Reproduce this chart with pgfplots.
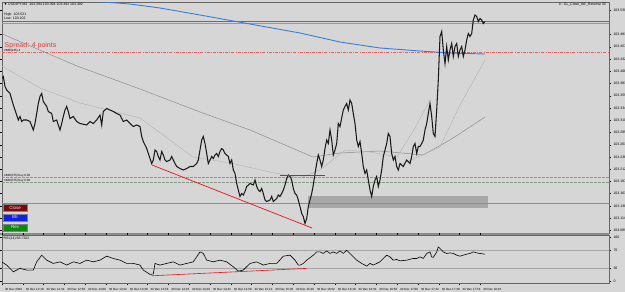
\documentclass[border=0pt]{standalone}
\usepackage{pgfplots}
\pgfplotsset{compat=1.18}
\usepackage{amssymb}
\usepackage{fontspec}
\setmainfont{Liberation Sans}
\definecolor{bg}{HTML}{D6D6D6}
\definecolor{maslow}{HTML}{8E8E8E}
\definecolor{mafast}{HTML}{B2B2B2}
\definecolor{mablue}{HTML}{3A7FD6}
\definecolor{lvred}{HTML}{E03A3A}
\definecolor{trred}{HTML}{E8141A}
\definecolor{lvgreen}{HTML}{849C84}
\definecolor{zone}{HTML}{A8A8A8}
\definecolor{btnred}{HTML}{7A0A0A}
\definecolor{btnblue}{HTML}{1020E8}
\definecolor{btngreen}{HTML}{0A8A0A}
\newcommand\fs[1]{\fontsize{#1}{#1}\selectfont}
\begin{document}
\begin{tikzpicture}[x=1pt,y=1pt]
\fill[bg] (0,0) rectangle (625,-292);
\path[use as bounding box] (0,0) rectangle (625,-292);
% ---------------- main price panel
\begin{axis}[at={(2pt,-2pt)}, anchor=north west, scale only axis,
  width=607pt, height=231pt, xmin=2, xmax=609, ymin=103.084, ymax=103.546,
  axis line style={black!60, line width=0.5pt},
  xtick=\empty,
  ytick={103.530,103.4810,103.4566,103.4321,103.4076,103.3831,103.3586,103.3342,103.3097,103.2852,103.2607,103.2362,103.2118,103.1873,103.1628,103.1383,103.1138,103.0894},
  yticklabel pos=right, tick align=outside, major tick length=2pt,
  tick style={black, line width=0.3pt},
  yticklabel style={font=\fs{3.5}, xshift=-1pt, /pgf/number format/.cd, fixed, fixed zerofill, precision=3, assume math mode=true},
  clip=true]
% zone and levels
\addplot[fill=zone, draw=none] coordinates {(308,103.134) (488,103.134) (488,103.158) (308,103.158)} -- cycle;
\addplot[black!45, line width=0.4pt] coordinates {(2,103.144) (609,103.144)};
\addplot[lvgreen, line width=0.45pt, dash pattern=on 2.5pt off 1.5pt] coordinates {(2,103.196) (609,103.196)};
\addplot[lvgreen, line width=0.45pt, dash pattern=on 2.5pt off 1.5pt] coordinates {(2,103.186) (609,103.186)};
\addplot[lvred!80, line width=0.5pt, dash pattern=on 3pt off 1.2pt on 0.8pt off 1.2pt] coordinates {(2,103.445) (609,103.445)};
\addplot[black!40, line width=0.4pt] coordinates {(2,103.504) (609,103.504)};
\addplot[lvred, line width=0.6pt] coordinates {(2,103.507) (609,103.507)};
% moving averages
\addplot[mablue, line width=0.9pt] coordinates {(85,103.550) (90,103.548) (130,103.542) (160,103.534) (200,103.520) (250,103.502) (300,103.484) (340,103.466) (380,103.454) (420,103.448) (450,103.444) (485,103.442)};
\addplot[maslow, line width=0.5pt] coordinates {(0,103.484) (77,103.418) (140,103.372) (200,103.326) (250,103.290) (313,103.236) (340,103.244) (380,103.248) (423,103.240) (450,103.270) (485,103.316)};
\addplot[mafast, line width=0.4pt] coordinates {(0,103.420) (40,103.374) (80,103.344) (140,103.314) (170,103.270) (193,103.236) (230,103.224) (270,103.206) (300,103.194) (320,103.210) (345,103.250) (370,103.246) (397,103.236) (415,103.294) (430,103.350)};
\addplot[mafast, line width=0.4pt] coordinates {(400,103.220) (440,103.256) (460,103.340) (485,103.430)};
% price
\addplot[black!90, line width=1.05pt, line join=miter] coordinates {
(1.7,103.393) (3.3,103.397) (5,103.377) (6.7,103.370) (10,103.363) (13.3,103.340) (15,103.330) (16.7,103.320) (18.3,103.310) (20,103.317) (21.7,103.307) (23.3,103.310) (26.7,103.310) (30,103.307) (33.3,103.290) (35,103.303) (36.7,103.323) (38.3,103.343) (40,103.357) (41.7,103.363) (43.3,103.347) (46.7,103.337) (48.3,103.327) (51.7,103.323) (53.3,103.307) (56.7,103.310) (60,103.290) (61.7,103.303) (63.3,103.317) (65,103.330) (66.7,103.337) (68.3,103.327) (70,103.313) (73.3,103.317) (76.7,103.307) (80,103.303) (86.7,103.300) (90,103.307) (93.3,103.303) (96.7,103.310) (100,103.320) (101.7,103.300) (103.3,103.327) (106.7,103.333) (110,103.330) (113.3,103.327) (116.7,103.323) (120,103.320) (121.7,103.313) (123.3,103.307) (126.7,103.310) (130,103.303) (133.3,103.297) (136.7,103.300)
(140,103.297) (141.7,103.277) (143.3,103.267) (146.7,103.253) (150,103.233) (151.7,103.223) (153.3,103.230) (155,103.250) (156.7,103.247) (158.3,103.237) (160,103.230) (161.7,103.247) (163.3,103.240) (165,103.230) (166.7,103.227) (170,103.230) (171.7,103.237) (173.3,103.230) (175,103.223) (176.7,103.217) (180,103.213) (183.3,103.210) (186.7,103.213) (190,103.217) (193.3,103.217) (196.7,103.223) (198.3,103.230) (200,103.250) (201.7,103.270) (203.3,103.277) (205,103.263) (206.7,103.243) (208.3,103.223) (210,103.230) (211.7,103.237) (213.3,103.233) (215,103.240) (216.7,103.243) (218.3,103.237) (220,103.247) (221.7,103.253) (223.3,103.250) (225,103.243) (226.7,103.240) (228.3,103.237) (230,103.223) (231.7,103.230) (233.3,103.210) (235,103.203) (236.7,103.183) (238.3,103.170) (240,103.157) (241.7,103.163) (243.3,103.160) (245,103.167) (246.7,103.177) (250,103.183) (253.3,103.180) (255,103.190) (256.7,103.177) (258.3,103.170) (260,103.167) (261.7,103.173) (263.3,103.163) (265,103.150) (266.7,103.147) (270,103.150) (271.7,103.157) (273.3,103.147) (276.7,103.153) (278.3,103.160) (280,103.157) (281.7,103.163) (283.3,103.170) (285,103.180) (286.7,103.193) (288.3,103.200) (290,103.197) (291.7,103.190) (293.3,103.173) (295,103.163) (296.7,103.160) (298.3,103.150) (300,103.137) (301.7,103.123) (303.3,103.117) (305,103.103) (306.7,103.113) (308.3,103.137) (310,103.150) (311.7,103.163) (313.3,103.180) (315,103.203) (316.7,103.223) (318.3,103.240) (320,103.230) (321.7,103.217) (323.3,103.230) (325,103.253) (326.7,103.270) (328.3,103.263) (330,103.290) (331.7,103.270) (333.3,103.240) (335,103.250) (336.7,103.263) (338.3,103.303)
(340,103.297) (343.3,103.330) (345,103.337) (346.7,103.343) (348.3,103.330) (350,103.350) (351.7,103.343) (353.3,103.323) (355,103.303) (356.7,103.270) (358.3,103.257) (360,103.267) (361.7,103.243) (363.3,103.217) (365,103.203) (366.7,103.210) (368.3,103.190) (370,103.170) (371.7,103.157) (373.3,103.177) (375,103.190) (376.7,103.197) (378.3,103.177) (380,103.190) (381.7,103.210) (383.3,103.237) (385,103.250) (386.7,103.263) (388.3,103.283) (390,103.277) (391.7,103.243) (393.3,103.230) (395,103.237) (396.7,103.217) (398.3,103.210) (400,103.223) (403.3,103.217) (406.7,103.230) (410,103.223) (411.7,103.237) (413.3,103.257) (415,103.263) (416.7,103.243) (418.3,103.257) (420,103.257) (421.7,103.263) (423.3,103.270) (425,103.290) (426.7,103.303) (428.3,103.323) (430,103.343) (431.7,103.317) (433.3,103.283) (435,103.277) (436.7,103.330) (438.3,103.390) (440,103.477) (441.7,103.487) (443.3,103.450) (445,103.423) (446.7,103.457) (448.3,103.430) (450,103.450) (451.7,103.463) (453.3,103.437) (455,103.457) (456.7,103.463) (458.3,103.437) (460,103.450) (461.7,103.457) (463.3,103.437) (465,103.450) (466.7,103.470) (468.3,103.483) (470,103.477) (471.7,103.483) (473.3,103.510) (475,103.520) (476.7,103.517) (478.3,103.507) (480,103.513) (481.7,103.510) (483.3,103.503) (485,103.507)};
% drawn lines
\addplot[trred, line width=0.7pt] coordinates {(152,103.220) (312,103.094)};
\addplot[trred, line width=0.7pt] coordinates {(280,103.200) (325,103.200)};
\node[fill=black, text=white, font=\fs{3.5}, inner sep=0.8pt, anchor=west] at (axis cs:609.5,103.507) {103.507};
\end{axis}
% ---------------- separator
\fill[black!45] (0,-233) rectangle (609,-235.3);
% ---------------- RSI panel
\begin{axis}[at={(2pt,-235.3pt)}, anchor=north west, scale only axis,
  width=607pt, height=47.7pt, xmin=2, xmax=609, ymin=-4.5, ymax=104.5,
  axis line style={black!60, line width=0.5pt},
  ytick={0,30,70,100}, yticklabel pos=right, tick align=outside, major tick length=2pt,
  tick style={black, line width=0.3pt},
  yticklabel style={font=\fs{3.5}, xshift=-1pt, /pgf/number format/assume math mode=true},
  xtick={2,22.8,43.6,64.4,85.2,106,126.8,147.6,168.4,189.2,210,230.8,251.6,272.4,293.2,314,334.8,355.6,376.4,397.2,418,438.8,459.6,480.4},
  xticklabels={30 Dec 2020,30 Dec 12:18,30 Dec 12:34,30 Dec 12:50,30 Dec 13:06,30 Dec 13:22,30 Dec 13:38,30 Dec 13:54,30 Dec 14:10,30 Dec 14:26,30 Dec 14:42,30 Dec 14:58,30 Dec 15:14,30 Dec 15:30,30 Dec 15:46,30 Dec 16:02,30 Dec 16:18,30 Dec 16:34,30 Dec 16:50,30 Dec 17:06,30 Dec 17:22,30 Dec 17:38,30 Dec 17:54,30 Dec 18:10},
  xticklabel style={font=\fs{3}, anchor=north west, xshift=-0.5pt, yshift=0.5pt},
  clip=true]
\addplot[black!35, line width=0.3pt] coordinates {(2,70) (609,70)};
\addplot[black!35, line width=0.3pt] coordinates {(2,30) (609,30)};
\addplot[black, line width=0.6pt, line join=round] coordinates {
(1.7,43.9) (6.7,36.4) (13.3,21.1) (20,28.9) (26.7,25) (33.3,25) (36.7,43.9) (41.7,59.1) (46.7,47.7) (53.3,40.2) (60,43.9) (66.7,36.4) (73.3,43.9) (80,40.2) (86.7,47.7) (93.3,43.9) (100,47.7) (106.7,56.8) (113.3,51.6) (120,47.7) (126.7,40.2) (133.3,40.2) (140,36.4) (143.3,25) (150,15.2) (153.3,15.9) (155,40.2) (160,36.4) (166.7,40.2) (173.3,43.9) (180,36.4) (186.7,40.2) (193.3,43.9) (200,66.6) (203.3,63) (206.7,47.7) (213.3,43.9) (220,47.7) (226.7,43.9) (233.3,32.5) (238.3,22.7) (243.3,25) (250,40.2) (256.7,43.9) (263.3,36.4) (270,40.2) (276.7,40.2) (283.3,56.8) (290,59.1) (295,47.7) (298.3,36.4) (300,36.4) (303.3,40.2) (306.7,47.7) (313.3,59.1) (316.7,66.6) (320,66.6) (323.3,63) (326.7,68.9) (330,63) (333.3,66.6) (336.7,63) (340,68.9) (343.3,63) (346.7,70.5) (350,63) (353.3,55.2) (356.7,47.7) (361.7,40.2) (366.7,34.1) (370,40.2) (373.3,36.4) (376.7,40.2) (380,43.9) (383.3,51.6) (386.7,59.1) (390,55.2) (393.3,47.7) (396.7,49.3) (400,46.1) (406.7,47.7) (413.3,51.6) (416.7,51.6) (420,55.2) (423.3,51.6) (426.7,63) (430,66.6) (431.7,55.2) (433.3,53.9) (436.7,66.6) (438.3,78) (440,74.3) (443.3,66.6) (446.7,63) (450,64.3) (453.3,63) (456.7,59.1) (460,56.8) (463.3,59.1) (466.7,61.4) (470,63) (473.3,66.6) (476.7,64.3) (480,63) (485,61.4)};
\addplot[trred, line width=0.6pt] coordinates {(151.7,12) (306.7,28.9)};
\end{axis}
% ---------------- texts and buttons
\node[anchor=north west, font=\fs{3.5}, inner sep=0pt] at (4,-2.5) {$\blacktriangledown$ USDJPY,M1\ \ 103.394 103.394 103.392 103.392};
\node[anchor=north west, font=\fs{3.5}, inner sep=0pt] at (4,-12.5) {High: 103.521};
\node[anchor=north west, font=\fs{3.5}, inner sep=0pt] at (4,-17) {Low: 103.102};
\node[anchor=north east, font=\fs{3.5}, inner sep=0pt] at (606,-2.5) {0 - GL\_Close\_BE\_Reverse $\boxtimes$};
\node[anchor=north west, font=\fs{7}, text=lvred, inner sep=0pt] at (4.5,-42.5) {Spread: 4 points};
\node[anchor=north west, font=\fs{3}, inner sep=0pt] at (4,-49.5) {\#888(135) 4};
\node[anchor=north west, font=\fs{3}, inner sep=0pt] at (4,-174.5) {\#888(376) buy 0.00};
\node[anchor=north west, font=\fs{3}, inner sep=0pt] at (4,-179.5) {\#888(375) buy 0.00};
\node[anchor=north west, font=\fs{3.5}, inner sep=0pt] at (3.5,-236.5) {RSI(14) 68.7322};
\node[anchor=north west, fill=btnred, draw=black!50, line width=0.3pt, text=white!85!red, font=\fs{4.5}, minimum width=24pt, minimum height=7.5pt, inner sep=0pt] at (3,-203.5) {Close};
\node[anchor=north west, fill=btnblue, draw=black!50, line width=0.3pt, text=white!85!blue, font=\fs{4.5}, minimum width=24pt, minimum height=7.5pt, inner sep=0pt] at (3,-213.5) {BE};
\node[anchor=north west, fill=btngreen, draw=black!50, line width=0.3pt, text=white!85!green, font=\fs{4.5}, minimum width=24pt, minimum height=7.5pt, inner sep=0pt] at (3,-223.5) {Rev};
\end{tikzpicture}
\end{document}
